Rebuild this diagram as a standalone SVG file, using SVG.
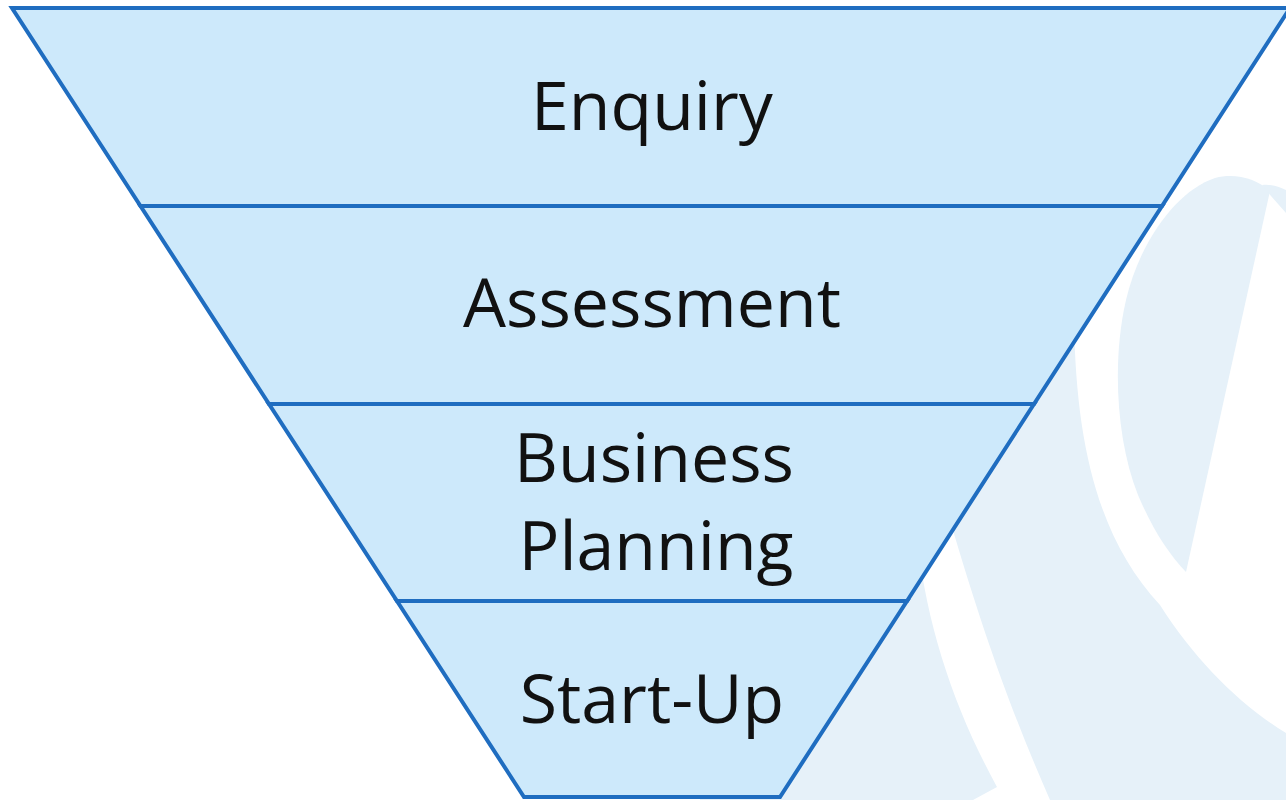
<svg xmlns="http://www.w3.org/2000/svg" width="1286" height="800" viewBox="0 0 1286 800">
  <style>
    .mark { fill: #e6f1f9; stroke: none; }
    .stage { fill: #cde9fb; stroke: #1f6dc0; stroke-width: 4; stroke-linejoin: miter; }
    .label { font-family: "Open Sans", "Liberation Sans", sans-serif; font-size: 68px; fill: #111111; text-anchor: middle; }
  </style>
  <rect x="0" y="0" width="1286" height="800" fill="#ffffff"/>

  <!-- faint background emblem -->
  <g id="emblem">
    <path class="mark" d="M700,540 L918,545 C928,630 955,710 997,787 L973,800 L700,800 Z"/>
    <path class="mark" d="M1040,320 L1074,320 C1076,450 1100,540 1160,605 C1195,660 1240,705 1286,733 L1286,800 L1050,800 C1015,720 985,640 950,520 L900,520 Z"/>
    <path class="mark" d="M1186,572 L1270,191 C1255,178 1235,173 1215,178 C1178,190 1140,240 1126,300 C1112,360 1116,440 1138,495 C1153,530 1168,553 1186,572 Z"/>
    <path class="mark" d="M1262,185 C1272,184 1280,187 1286,190 L1286,213 L1271,196 Z"/>
  </g>

  <!-- funnel stages, widest at the top -->
  <g id="stage-enquiry">
    <polygon class="stage" points="12,8 1290,8 1162,206 140.5,206"/>
    <text class="label" x="652" y="130">Enquiry</text>
  </g>
  <g id="stage-assessment">
    <polygon class="stage" points="140.5,206 1162,206 1034,404 269,404"/>
    <text class="label" x="652" y="327">Assessment</text>
  </g>
  <g id="stage-business-planning">
    <polygon class="stage" points="269,404 1034,404 907,601 397,601"/>
    <text class="label" x="654" y="482">Business</text>
    <text class="label" x="656" y="570">Planning</text>
  </g>
  <g id="stage-start-up">
    <polygon class="stage" points="397,601 907,601 780,797 524,797"/>
    <text class="label" x="652" y="723">Start-Up</text>
  </g>

  <g id="connectors"/>
</svg>
